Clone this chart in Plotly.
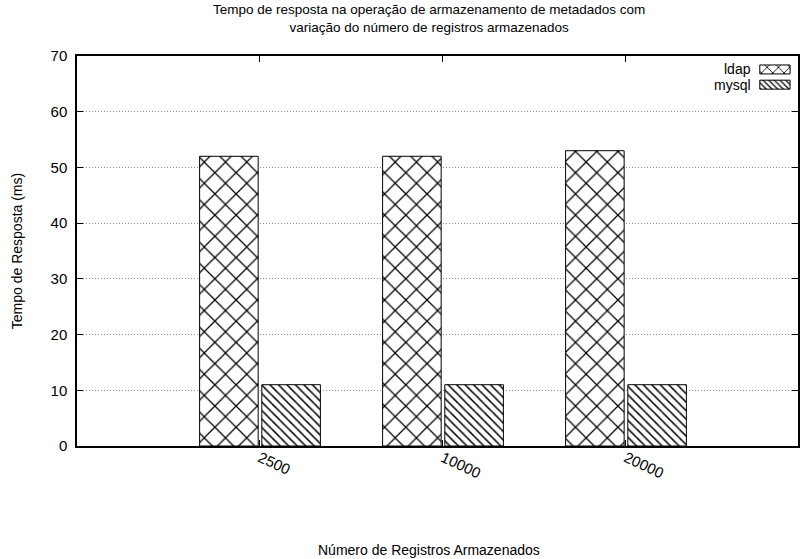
import plotly.graph_objects as go

categories = ["2500", "10000", "20000"]
ldap = [52, 52, 53]
mysql = [11, 11, 11]
y_ticks = [0, 10, 20, 30, 40, 50, 60, 70]

xpos = list(range(1, len(categories) + 1))
FONT = "Liberation Sans, Arial, sans-serif"

PAT_LDAP = dict(shape="x", size=15, solidity=0.16, fgcolor="black", fgopacity=1,
                bgcolor="white", fillmode="replace")
PAT_MYSQL = dict(shape="\\", size=6, solidity=0.25, fgcolor="black", fgopacity=1,
                 bgcolor="white", fillmode="replace")

fig = go.Figure()
fig.add_trace(go.Bar(
    name="ldap", x=xpos, y=ldap, width=0.32, offset=-0.33, showlegend=False,
    marker=dict(color="white", line=dict(color="black", width=1), pattern=PAT_LDAP),
))
fig.add_trace(go.Bar(
    name="mysql", x=xpos, y=mysql, width=0.32, offset=0.01, showlegend=False,
    marker=dict(color="white", line=dict(color="black", width=1), pattern=PAT_MYSQL),
))

# legend keys (text on the left, patterned box on the right), on an overlay axis
legend_names = ["ldap", "mysql"]
key_rows = [(0.954, 0.977), (0.915, 0.938)]
key_x = (0.947, 0.989)
key_pats = [dict(shape="x", size=8, solidity=0.2, fgcolor="black", fgopacity=1,
                 bgcolor="white", fillmode="replace"),
            dict(shape="\\", size=4, solidity=0.3, fgcolor="black", fgopacity=1,
                 bgcolor="white", fillmode="replace")]
annotations = []
for name, (y0, y1), pat in zip(legend_names, key_rows, key_pats):
    fig.add_trace(go.Scatter(
        x=[key_x[0], key_x[1], key_x[1], key_x[0], key_x[0]],
        y=[y0, y0, y1, y1, y0], xaxis="x2", yaxis="y2",
        mode="lines", fill="toself", fillcolor="white", fillpattern=pat,
        line=dict(color="black", width=1), showlegend=False, hoverinfo="skip",
    ))
    annotations.append(dict(
        text=name, xref="paper", yref="paper", x=key_x[0] - 0.009, y=(y0 + y1) / 2,
        xanchor="right", yanchor="middle", showarrow=False, font=dict(size=14),
    ))

annotations.append(dict(
    text="Número de Registros Armazenados", xref="paper", yref="paper",
    x=0.488, y=-(550 - 446) / 389, xanchor="center", yanchor="middle",
    showarrow=False, font=dict(size=14),
))
annotations.append(dict(
    text="Tempo de resposta na operação de armazenamento de metadados com<br>variação do número de registros armazenados",
    xref="paper", yref="paper", x=0.488, y=(446 - 20) / 389,
    xanchor="center", yanchor="middle", showarrow=False,
    font=dict(size=13.5), align="center",
))

fig.update_layout(
    width=800, height=559,
    margin=dict(l=77, r=0, t=56, b=113),
    paper_bgcolor="white", plot_bgcolor="white",
    font=dict(family=FONT, size=14, color="black"),
    showlegend=False,
    xaxis=dict(
        range=[0, 3.94], tickvals=xpos, ticktext=categories,
        tickangle=25, showgrid=False, zeroline=False,
        showline=True, linecolor="black", linewidth=1.5, mirror="ticks",
        ticks="inside", ticklen=6, tickcolor="black",
        tickfont=dict(size=15), ticklabelstandoff=-4,
    ),
    yaxis=dict(
        range=[0, 70], tickvals=y_ticks, showgrid=True,
        gridcolor="#8c8c8c", griddash="1px,2px", gridwidth=1,
        zeroline=False, showline=True, linecolor="black", linewidth=1.5,
        mirror="ticks", ticks="inside", ticklen=6, tickcolor="black",
        tickfont=dict(size=15), ticklabelstandoff=5,
        title=dict(text="Tempo de Resposta (ms)", font=dict(size=14), standoff=25),
    ),
    xaxis2=dict(range=[0, 1], overlaying="x", visible=False, fixedrange=True),
    yaxis2=dict(range=[0, 1], overlaying="y", visible=False, fixedrange=True),
    annotations=annotations,
)

fig.write_html("out.html", config={"displayModeBar": False},
               post_script="document.body.style.margin='0';")
